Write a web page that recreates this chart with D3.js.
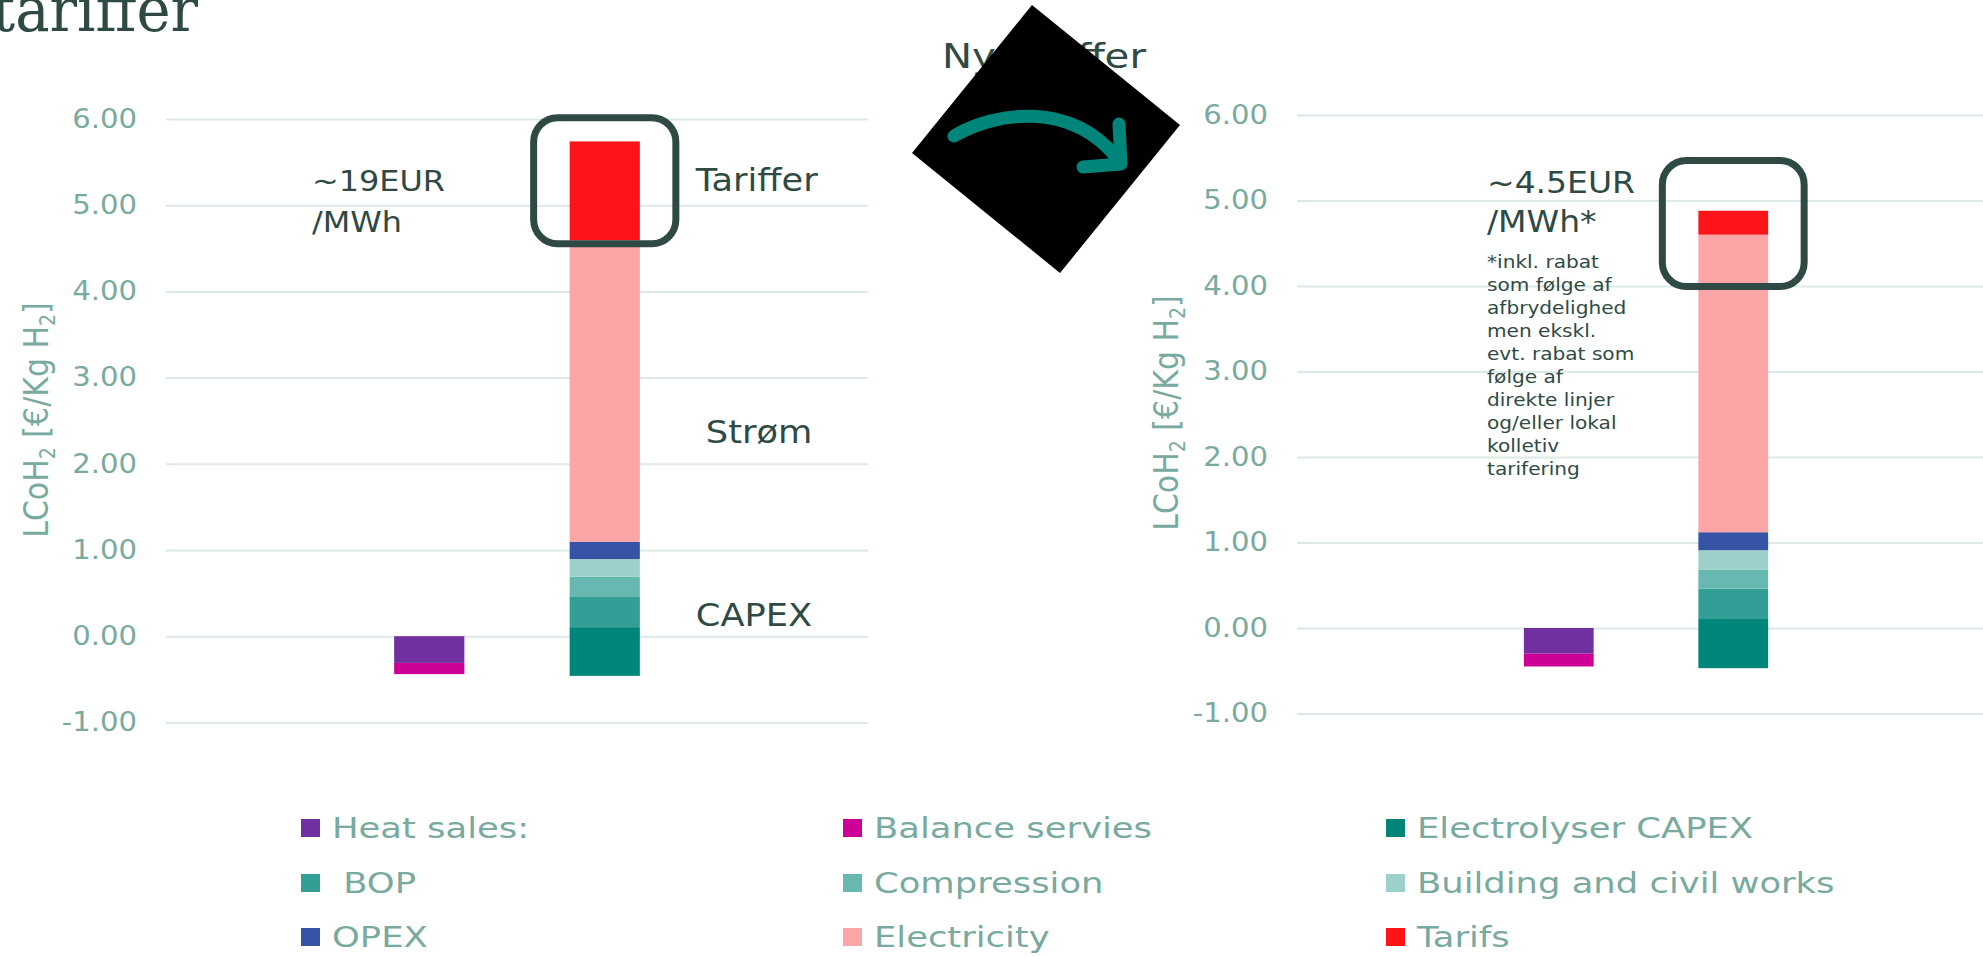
<!DOCTYPE html>
<html>
<head>
<meta charset="utf-8">
<script src="https://cdn.jsdelivr.net/npm/d3@7"></script>
<style>
  html, body { margin: 0; padding: 0; background: #ffffff; }
  svg { display: block; }
  text { white-space: pre; }
</style>
</head>
<body>
<svg id="chart" width="1983" height="956"></svg>
<script>
// ---------------- DATA ----------------
const categories = ["Tom1", "Indtægter", "Omkostninger", "Tom2"];
const panelNames = ["Nuværende tariffer", "Ny tariffer"];
const yTicks = [-1, 0, 1, 2, 3, 4, 5, 6];

const seriesNames = ["Heat sales:", "Balance servies", "Electrolyser CAPEX", " BOP", "Compression",
                     "Building and civil works", "OPEX", "Electricity", "Tarifs"];
const seriesColors = ["#7030a0", "#cc0096", "#00857a", "#339e96", "#66b8b0",
                      "#9dd0ca", "#3653a5", "#fca5a6", "#fc1419"];
// which category each series is stacked in
const seriesCategory = ["Indtægter", "Indtægter", "Omkostninger", "Omkostninger", "Omkostninger",
                        "Omkostninger", "Omkostninger", "Omkostninger", "Omkostninger"];

// values per panel: [current tariffs, new tariffs]  (€/kg H2)
const heatSales        = [-0.31, -0.30];
const balanceServices  = [-0.13, -0.15];
const costBase         = [-0.46, -0.47];   // where the cost stack starts
const electrolyserCapex= [0.565, 0.575];
const bop              = [0.35, 0.355];
const compression      = [0.235, 0.22];
const buildingCivil    = [0.205, 0.23];
const opex             = [0.20, 0.21];
const electricity      = [3.50, 3.48];
const tarifs           = [1.145, 0.28];

const seriesValues = [heatSales, balanceServices, electrolyserCapex, bop, compression,
                      buildingCivil, opex, electricity, tarifs];

// highlight boxes around the tariff component (value range)
const boxRange = [[6.015, 4.553], [5.468, 3.994]];

const leftNote = ["~19EUR", "/MWh"];
const rightNote = ["~4.5EUR", "/MWh*"];
const footnote = ["*inkl. rabat", "som følge af", "afbrydelighed", "men ekskl.", "evt. rabat som",
                  "følge af", "direkte linjer", "og/eller lokal", "kolletiv", "tarifering"];
const componentLabels = ["Tariffer", "Strøm", "CAPEX"];
const componentLabelValues = [5.17, 2.24, 0.115];

// ---------------- DRAW ----------------
const svg = d3.select("#chart");
svg.append("rect").attr("width", 1983).attr("height", 956).attr("fill", "#ffffff");

const DARK = "#2f4a44";
const AXIS = "#79aa9f";
const GRID = "#dde9e6";
const SANS = "'DejaVu Sans', sans-serif";
const locale = d3.formatLocale({decimal: ".", thousands: ",", grouping: [3], currency: ["", ""], minus: "-"});
const fmt = locale.format(".2f");

function stext(g, x, y, str, size, sx, color, anchor) {
  return g.append("text")
    .attr("transform", `translate(${x},${y}) scale(${sx},1)`)
    .style("font-family", SANS)
    .style("font-size", size + "px")
    .attr("fill", color)
    .attr("text-anchor", anchor || "start")
    .text(str);
}

const layouts = [
  {x0: 166, x1: 868, gridEnd: 868, yTop: 119, yBottom: 722.4, titleX: 36, titleY: 420},
  {x0: 1297, x1: 1995, gridEnd: 1990, yTop: 115, yBottom: 713.5, titleX: 1166, titleY: 413}
];

const scales = [];

layouts.forEach((L, p) => {
  const g = svg.append("g").attr("class", "panel").attr("data-name", panelNames[p]);
  const y = d3.scaleLinear().domain([-1, 6]).range([L.yBottom, L.yTop]);
  const x = d3.scaleBand().domain(categories).range([L.x0, L.x1]).padding(0);
  const barW = x.bandwidth() * 0.4;
  const barX = c => x(c) + (x.bandwidth() - barW) / 2;
  scales.push({x, y, barW, barX});

  // axis + gridlines
  const ax = g.append("g").attr("transform", `translate(${L.x0},0)`)
    .call(d3.axisLeft(y).tickValues(yTicks).tickFormat(fmt)
      .tickSize(-(L.gridEnd - L.x0)).tickPadding(29));
  ax.select(".domain").remove();
  ax.selectAll(".tick line").attr("stroke", GRID).attr("stroke-width", 2);
  ax.selectAll(".tick text")
    .attr("fill", AXIS)
    .style("font-size", "26px")
    .style("font-family", SANS)
    .attr("x", -29 / 1.12).attr("transform", "scale(1.12,1)");

  // y title
  const t = g.append("text")
    .attr("transform", `translate(${L.titleX},${L.titleY}) scale(1.15,1) rotate(-90)`)
    .attr("text-anchor", "middle").attr("dy", "0.35em")
    .style("font-family", SANS).style("font-size", "30px").attr("fill", AXIS);
  t.append("tspan").text("LCoH");
  t.append("tspan").style("font-size", "19px").attr("dy", 6).text("2");
  t.append("tspan").attr("dy", -6).text(" [€/Kg H");
  t.append("tspan").style("font-size", "19px").attr("dy", 6).text("2");
  t.append("tspan").attr("dy", -6).text("]");

  // stacked segments
  const cum = {};
  categories.forEach(c => { cum[c] = {pos: costBase[p], neg: 0}; });
  cum["Indtægter"].pos = 0;
  const segs = [];
  seriesValues.forEach((vals, i) => {
    const c = seriesCategory[i];
    const v = vals[p];
    let a, b;
    if (v < 0) { a = cum[c].neg; b = a + v; cum[c].neg = b; }
    else { a = cum[c].pos; b = a + v; cum[c].pos = b; }
    segs.push({c, a, b, color: seriesColors[i], name: seriesNames[i]});
  });
  g.append("g").selectAll("rect").data(segs).join("rect")
    .attr("x", d => barX(d.c))
    .attr("width", barW)
    .attr("y", d => y(Math.max(d.a, d.b)))
    .attr("height", d => Math.abs(y(d.a) - y(d.b)))
    .attr("fill", d => d.color);

  // highlight box around tariffs
  const cx = barX("Omkostninger");
  g.append("rect")
    .attr("x", cx - 36).attr("width", barW + 72)
    .attr("y", y(boxRange[p][0])).attr("height", y(boxRange[p][1]) - y(boxRange[p][0]))
    .attr("rx", 24).attr("ry", 24)
    .attr("fill", "none").attr("stroke", DARK).attr("stroke-width", 7);
});

// ---- annotations, left panel ----
const ann = svg.append("g");
stext(ann, 312, 191, leftNote[0], 29, 1.1, DARK);
stext(ann, 312, 232, leftNote[1], 29, 1.1, DARK);
{
  const s = scales[0];
  const right = s.barX("Omkostninger") + s.barW;
  const offs = [56, 66, 56];
  componentLabels.forEach((lab, i) => {
    stext(ann, right + offs[i], s.y(componentLabelValues[i]), lab, 32, 1.1, DARK);
  });
}

// ---- annotations, right panel ----
stext(ann, 1487, 193, rightNote[0], 30, 1.1, DARK);
stext(ann, 1487, 232, rightNote[1], 30, 1.1, DARK);
footnote.forEach((line, i) => stext(ann, 1487, 268 + i * 23, line, 17.5, 1.15, DARK));

// ---- page title fragments ----
svg.append("text").attr("transform", "translate(-8,31) scale(0.93,1)")
  .style("font-family", "'DejaVu Serif', serif").style("font-size", "62px").attr("fill", DARK)
  .text("tariffer");
stext(svg, 942, 68, "Ny tariffer", 33, 1.22, DARK);

// ---- black diamond with arrow ----
svg.append("polygon")
  .attr("points", [[1032, 5], [1180, 125], [1060, 273], [912, 153]].map(p => p.join(",")).join(" "))
  .attr("fill", "#000000");
svg.append("path")
  .attr("d", "M954,136 C995,112 1070,100 1117,158")
  .attr("fill", "none").attr("stroke", "#00857a").attr("stroke-width", 13).attr("stroke-linecap", "round");
svg.append("path")
  .attr("d", "M1119,124 L1121,164 L1083,167")
  .attr("fill", "none").attr("stroke", "#00857a").attr("stroke-width", 13)
  .attr("stroke-linecap", "round").attr("stroke-linejoin", "round");

// ---- legend ----
const colX = [301, 843, 1386];
const rowY = [828, 883, 937];
const leg = svg.append("g");
seriesNames.forEach((name, i) => {
  const cx = colX[i % 3], cy = rowY[Math.floor(i / 3)];
  leg.append("rect").attr("x", cx).attr("y", cy - 9).attr("width", 19).attr("height", 18)
    .attr("fill", seriesColors[i]);
  stext(leg, cx + 31, cy + 10, name, 29, 1.22, AXIS);
});
</script>
</body>
</html>
